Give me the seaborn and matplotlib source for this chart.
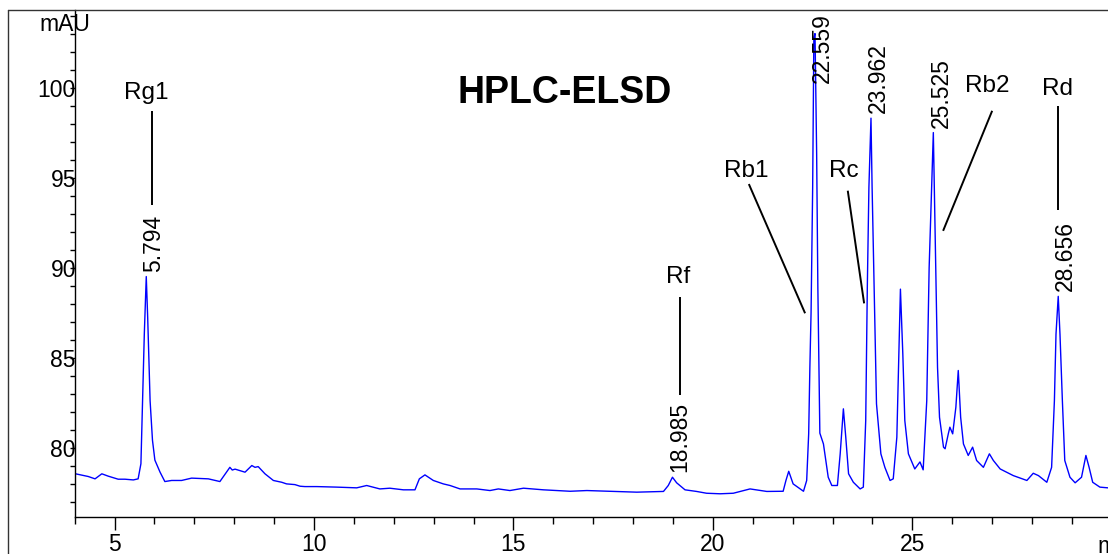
import matplotlib
matplotlib.use("Agg")
import matplotlib.pyplot as plt
from matplotlib.lines import Line2D
from matplotlib.ticker import MultipleLocator
import pandas as pd
import seaborn as sns

# ELSD chromatogram trace: retention time (min) and detector response (mAU)
time_min = [
    4.00, 4.34, 4.51, 4.68, 4.84, 5.09, 5.26, 5.47, 5.59, 5.66, 5.70, 5.745,
    5.794, 5.83, 5.89, 5.95, 6.01, 6.14, 6.26, 6.43, 6.68, 6.93, 7.35, 7.64,
    7.89, 7.95, 8.02, 8.27, 8.44, 8.52, 8.60, 8.77, 8.98, 9.19, 9.31, 9.52,
    9.65, 9.77, 10.07, 10.57, 11.07, 11.32, 11.65, 11.90, 12.24, 12.53, 12.64,
    12.78, 12.99, 13.24, 13.41, 13.66, 14.08, 14.41, 14.62, 14.91, 15.25,
    15.75, 16.42, 16.84, 17.42, 18.09, 18.76, 18.88, 18.985, 19.09, 19.30,
    19.59, 19.84, 20.18, 20.51, 20.93, 21.35, 21.76, 21.83, 21.90, 22.01,
    22.27, 22.35, 22.40, 22.43, 22.46, 22.50, 22.53, 22.559, 22.60, 22.63,
    22.68, 22.77, 22.89, 22.98, 23.12, 23.19, 23.27, 23.33, 23.40, 23.52,
    23.69, 23.77, 23.83, 23.87, 23.91, 23.962, 23.99, 24.04, 24.10, 24.21,
    24.31, 24.44, 24.52, 24.61, 24.65, 24.70, 24.76, 24.81, 24.90, 25.06,
    25.19, 25.27, 25.36, 25.42, 25.525, 25.57, 25.63, 25.68, 25.78, 25.82,
    25.90, 25.94, 26.01, 26.09, 26.15, 26.21, 26.28, 26.40, 26.51, 26.61,
    26.78, 26.93, 27.03, 27.20, 27.53, 27.87, 28.03, 28.16, 28.37, 28.49,
    28.56, 28.60, 28.656, 28.70, 28.76, 28.82, 28.95, 29.08, 29.24, 29.35,
    29.43, 29.52, 29.70, 29.90,
]
response_mau = [
    78.55, 78.39, 78.26, 78.54, 78.41, 78.24, 78.24, 78.20, 78.26, 79.10, 82.6, 86.3,
    89.5, 87.2, 82.6, 80.4, 79.3, 78.63, 78.11, 78.17, 78.17, 78.30, 78.26, 78.11,
    78.90, 78.75, 78.80, 78.63, 79.00, 78.90, 78.94, 78.54, 78.17, 78.07, 77.98, 77.94,
    77.85, 77.83, 77.83, 77.80, 77.76, 77.89, 77.70, 77.74, 77.65, 77.65, 78.26,
    78.48, 78.17, 77.98, 77.89, 77.70, 77.70, 77.61, 77.70, 77.61, 77.74,
    77.65, 77.57, 77.61, 77.57, 77.52, 77.56, 77.89, 78.35, 78.04, 77.65,
    77.56, 77.46, 77.43, 77.46, 77.70, 77.56, 77.57, 78.17, 78.68, 77.98,
    77.57, 78.17, 80.76, 84.46, 87.5, 94.46, 102.8, 103.0, 96.3, 88.9,
    80.8, 80.2, 78.35, 77.89, 77.89, 79.65, 82.15, 80.57, 78.54, 78.07,
    77.70, 77.80, 81.5, 88.9, 94.46, 98.3, 94.46, 88.9, 82.43, 79.65,
    78.90, 78.17, 78.26, 80.57, 84.28, 88.8, 85.2, 81.5, 79.65, 78.81,
    79.20, 78.76, 82.6, 90.0, 97.5, 91.87, 84.46, 81.68, 80.02, 79.93,
    80.76, 81.13, 80.76, 82.24, 84.28, 81.68, 80.20, 79.56, 80.02, 79.28,
    78.90, 79.65, 79.28, 78.81, 78.44, 78.17, 78.57, 78.44, 78.07, 78.90,
    82.6, 86.3, 88.4, 86.3, 82.6, 79.28, 78.35, 78.04, 78.35, 79.56,
    78.90, 78.07, 77.80, 77.76,
]

# Integrated peaks: retention time and apex height
peak_times = [5.794, 18.985, 22.559, 23.962, 25.525, 28.656]
peak_heights = [89.5, 78.35, 103.0, 98.3, 97.5, 88.4]

# Ginsenoside assignments with label anchor and leader line (data coords)
compound_names = ["Rg1", "Rf", "Rb1", "Rc", "Rb2", "Rd"]
name_anchor = [(5.80, 99.36), (19.13, 89.12), (20.83, 95.04),
               (23.29, 95.04), (26.88, 99.77), (28.63, 99.58)]
leader_lines = [((5.94, 98.69), (5.94, 93.47)),
                ((19.17, 88.38), (19.17, 82.92)),
                ((20.90, 94.64), (22.31, 87.46)),
                ((23.38, 94.27), (23.79, 88.01)),
                ((27.00, 98.71), (25.77, 92.04)),
                ((28.66, 98.97), (28.66, 93.19))]

trace = pd.DataFrame({"time": time_min, "mAU": response_mau})

sns.set_style("ticks")
plt.rcParams["font.family"] = ["Liberation Sans", "DejaVu Sans"]
plt.rcParams["text.color"] = "black"
plt.rcParams["xtick.color"] = "black"
plt.rcParams["ytick.color"] = "black"
plt.rcParams["axes.labelcolor"] = "black"

W, H = 1108, 554
fig = plt.figure(figsize=(W / 100, H / 100), dpi=100)
ax = fig.add_axes([74.7 / W, 1 - 517 / H, (W - 74.7) / W, (517 - 10) / H])

sns.lineplot(data=trace, x="time", y="mAU", ax=ax, color="#0000ff",
             linewidth=1.0, estimator=None, sort=False)

ax.set_xlim(4, 4 + (W - 74.7) / 39.89)
ax.set_ylim(76.14, 104.31)
ax.set_xlabel("")
ax.set_ylabel("")

for side in ("top", "right"):
    ax.spines[side].set_visible(False)
for side in ("left", "bottom"):
    ax.spines[side].set_linewidth(1.0)
    ax.spines[side].set_color("black")

ax.xaxis.set_major_locator(MultipleLocator(5))
ax.xaxis.set_minor_locator(MultipleLocator(1))
ax.yaxis.set_major_locator(MultipleLocator(5))
ax.yaxis.set_minor_locator(MultipleLocator(1))
ax.tick_params(axis="x", which="major", length=9.4, width=1.0, pad=2,
               labelsize=16.5, direction="out", color="black", labelcolor="black")
ax.tick_params(axis="x", which="minor", length=5, width=1.0, direction="out",
               color="black")
ax.tick_params(axis="y", which="major", length=3.6, width=1.0, pad=-4.5,
               labelsize=16.5, direction="out", color="black", labelcolor="black")
ax.tick_params(axis="y", which="minor", length=3.6, width=1.0, direction="out",
               color="black")

# retention-time labels above each integrated peak
for t, h in zip(peak_times, peak_heights):
    label = f"{t:.3f}"
    if h > 100:
        ax.annotate(label, xy=(t, 1), xycoords=("data", "axes fraction"),
                    xytext=(5.5, -2), textcoords="offset points", rotation=90,
                    ha="center", va="top", fontsize=16.5, color="black")
    else:
        ax.annotate(label, xy=(t, h), xytext=(5.5, 3.5),
                    textcoords="offset points", rotation=90,
                    ha="center", va="bottom", fontsize=16.5, color="black")

# compound names with leader lines
for name, (nx, ny), ((x0, y0), (x1, y1)) in zip(compound_names, name_anchor, leader_lines):
    ax.text(nx, ny, name, ha="center", va="baseline", fontsize=17.5, color="black")
    ax.plot([x0, x1], [y0, y1], color="black", linewidth=1.4,
            solid_capstyle="butt")

ax.text(16.29, 99.13, "HPLC-ELSD", ha="center", va="baseline",
        fontsize=27, fontweight="bold", color="black")

# axis units
fig.text(64.5 / W, 1 - 31 / H, "mAU", ha="center", va="baseline", fontsize=16.5,
         color="black")
fig.text(1097 / W, 1 - 553 / H, "min", ha="left", va="baseline", fontsize=16.5,
         color="black")

# outer panel frame
frame_kw = dict(color="#333333", linewidth=1.0, transform=fig.transFigure)
fig.add_artist(Line2D([8 / W, 8 / W], [0, 1 - 10 / H], **frame_kw))
fig.add_artist(Line2D([8 / W, 1], [1 - 10 / H, 1 - 10 / H], **frame_kw))

fig.savefig("out.png", dpi=100)
